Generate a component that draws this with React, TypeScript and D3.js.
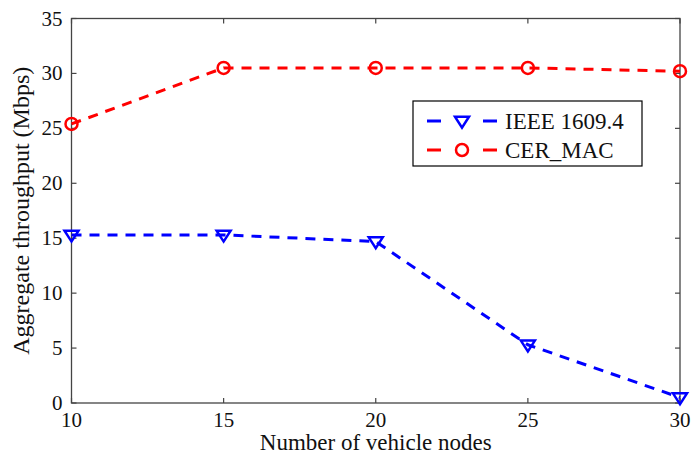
import React, { useEffect, useRef } from "react";
import * as d3 from "d3";

const nodes = [10, 15, 20, 25, 30];
const ieee = [15.3, 15.3, 14.7, 5.3, 0.5];
const cerMac = [25.4, 30.5, 30.5, 30.5, 30.2];
const xTicks = [10, 15, 20, 25, 30];
const yTicks = [0, 5, 10, 15, 20, 25, 30, 35];

const width = 692;
const height = 457;
const margin = { top: 18.5, right: 12, bottom: 54, left: 71.5 };
const font = "'Liberation Serif', 'Times New Roman', serif";

const App = () => {
  const ref = useRef<SVGSVGElement>(null);

  useEffect(() => {
    const svg = d3.select(ref.current);
    svg.selectAll("*").remove();

    const x = d3.scaleLinear().domain([10, 30]).range([margin.left, width - margin.right]);
    const y = d3.scaleLinear().domain([0, 35]).range([height - margin.bottom, margin.top]);
    const axisColor = "#444";

    const g = svg.append("g");

    // box
    g.append("rect")
      .attr("x", x(10))
      .attr("y", y(35))
      .attr("width", x(30) - x(10))
      .attr("height", y(0) - y(35))
      .attr("fill", "none")
      .attr("stroke", axisColor)
      .attr("stroke-width", 1.3);

    // inward ticks on all sides
    const tick = 5;
    xTicks.forEach(t => {
      g.append("line").attr("x1", x(t)).attr("x2", x(t)).attr("y1", y(0)).attr("y2", y(0) - tick)
        .attr("stroke", axisColor).attr("stroke-width", 1.2);
      g.append("line").attr("x1", x(t)).attr("x2", x(t)).attr("y1", y(35)).attr("y2", y(35) + tick)
        .attr("stroke", axisColor).attr("stroke-width", 1.2);
      g.append("text").attr("x", x(t)).attr("y", y(0) + 24)
        .attr("text-anchor", "middle").style("font-family", font).style("font-size", "21px")
        .attr("fill", "#111").text(t);
    });
    yTicks.forEach(t => {
      g.append("line").attr("x1", x(10)).attr("x2", x(10) + tick).attr("y1", y(t)).attr("y2", y(t))
        .attr("stroke", axisColor).attr("stroke-width", 1.2);
      g.append("line").attr("x1", x(30)).attr("x2", x(30) - tick).attr("y1", y(t)).attr("y2", y(t))
        .attr("stroke", axisColor).attr("stroke-width", 1.2);
      g.append("text").attr("x", x(10) - 9).attr("y", y(t) + 7)
        .attr("text-anchor", "end").style("font-family", font).style("font-size", "21px")
        .attr("fill", "#111").text(t);
    });

    // axis labels
    g.append("text").attr("x", (x(10) + x(30)) / 2).attr("y", 450)
      .attr("text-anchor", "middle").style("font-family", font).style("font-size", "23px")
      .attr("fill", "#111").text("Number of vehicle nodes");
    g.append("text")
      .attr("transform", `translate(29, ${(y(0) + y(35)) / 2}) rotate(-90)`)
      .attr("text-anchor", "middle").style("font-family", font).style("font-size", "24px")
      .attr("fill", "#111").text("Aggregate throughput (Mbps)");

    const line = d3.line<number>().x((d, i) => x(nodes[i])).y(d => y(d));
    const dash = "10,8";

    const drawTri = (sel: any, cx: number, cy: number, color: string) => {
      const s = 7;
      sel.append("path")
        .attr("d", `M${cx - s},${cy - s * 0.6}L${cx + s},${cy - s * 0.6}L${cx},${cy + s * 0.95}Z`)
        .attr("fill", "none").attr("stroke", color).attr("stroke-width", 2.5)
        .attr("stroke-linejoin", "miter");
    };
    const drawCirc = (sel: any, cx: number, cy: number, color: string) => {
      sel.append("circle").attr("cx", cx).attr("cy", cy).attr("r", 6)
        .attr("fill", "none").attr("stroke", color).attr("stroke-width", 2.5);
    };

    g.append("path").datum(ieee).attr("d", line).attr("fill", "none")
      .attr("stroke", "#0000ff").attr("stroke-width", 3).attr("stroke-dasharray", dash);
    g.append("path").datum(cerMac).attr("d", line).attr("fill", "none")
      .attr("stroke", "#ff0000").attr("stroke-width", 3).attr("stroke-dasharray", dash);

    ieee.forEach((v, i) => drawTri(g, x(nodes[i]), y(v), "#0000ff"));
    cerMac.forEach((v, i) => drawCirc(g, x(nodes[i]), y(v), "#ff0000"));

    // legend
    const lg = g.append("g").attr("transform", "translate(413,101)");
    lg.append("rect").attr("width", 229).attr("height", 65)
      .attr("fill", "#fff").attr("stroke", "#000").attr("stroke-width", 1.2);
    const items = [
      { label: "IEEE 1609.4", color: "#0000ff", marker: drawTri, yy: 20 },
      { label: "CER_MAC", color: "#ff0000", marker: drawCirc, yy: 49 },
    ];
    items.forEach(it => {
      lg.append("line").attr("x1", 14).attr("x2", 28).attr("y1", it.yy).attr("y2", it.yy)
        .attr("stroke", it.color).attr("stroke-width", 3);
      lg.append("line").attr("x1", 70).attr("x2", 84).attr("y1", it.yy).attr("y2", it.yy)
        .attr("stroke", it.color).attr("stroke-width", 3);
      it.marker(lg, 49, it.yy, it.color);
      lg.append("text").attr("x", 92).attr("y", it.yy + 8)
        .style("font-family", font).style("font-size", "23px").attr("fill", "#111").text(it.label);
    });
  }, []);

  return <svg ref={ref} width={width} height={height} style={{ display: "block", position: "absolute", left: 0, top: 0 }} />;
};

export default App;
